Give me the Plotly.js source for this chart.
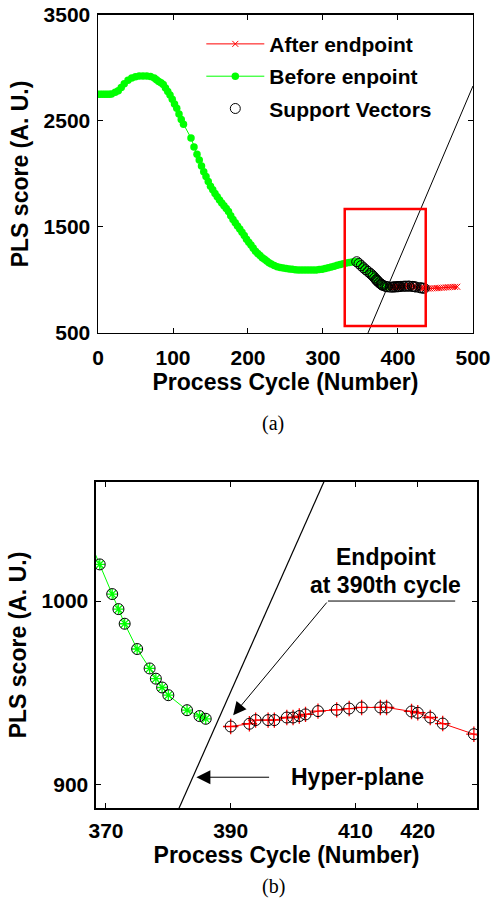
<!DOCTYPE html>
<html><head><meta charset="utf-8">
<script src="https://cdn.plot.ly/plotly-3.0.1.min.js"></script>
<style>html,body{margin:0;padding:0;background:#fff;} #chart{width:491px;height:913px;}</style>
</head><body><div id="chart"></div>
<script>
// ---- data ----
const beforeCycle = [0,3,6,9,12,15,18,23,27,31,35,40,45,50,55,60,65,70,75,
  78,81,84,87,90,93,96,99,102,105,108,111,114,124,128,132,135,138,141,144,147,150,153,156,159,162,165,168,171,174,177,180,
  183,186,189,192,195,198,201,204,207,210,213,216,219,222,225,228,
  231,235,239,243,247,251,255,259,263,267,271,275,279,283,287,291,295,299,303,307,311,315,319,323,327,331,335,339,343,345,
  348,351,354,357,360,363,365,367,
  369,371,372,373,375,377,378,379,380,383,385,386];
const beforeScore = [2752,2752,2752,2752,2752,2752,2754,2770,2786,2815,2850,2885,2905,2918,2925,2925,2924,2920,2905,
  2888,2872,2860,2845,2810,2778,2745,2705,2660,2620,2565,2515,2470,2340,2255,2185,2132,2075,2020,1975,1930,1885,1850,1815,1785,1755,1725,1700,1675,1645,1605,1570,
  1540,1510,1480,1450,1420,1385,1355,1330,1300,1272,1250,1232,1210,1195,1178,1162,
  1150,1137,1125,1118,1112,1108,1104,1100,1097,1095,1094,1094,1094,1094,1094,1095,1098,1102,1108,1115,1122,1130,1138,1146,1154,1160,1165,1169,1172,1172,
  1155,1135,1115,1097,1080,1062,1050,1036,
  1020,1003.8,995.6,987.6,973.8,963.2,957.6,952.8,948.6,940.4,937.2,935.7];
const afterCycle = [390,393,394,396,397,399,400,401,402,404,407,409,411,414,415,419,420,422,424,429,
  431,433,435,437,440,443,446,449,452,455,458,461,464,467,470,473,476,479];
const afterScore = [931.5,933,935,935,935,936.4,936.4,937.2,938.1,939.9,940.6,941.3,941.9,941.9,941.9,939.7,939,936.4,933.1,927.3,
  925,923,922,921,920,920,921,922,923,925,927,928,930,931,933,934,935,936];
const svCycle = [345,348,351,354,357,360,363,365,367,369,371,372,373,375,377,378,379,380,383,385,386,
  390,393,394,396,397,399,400,401,402,404,407,409,411,414,415,419,420,422,424,429,431,433,435];
const svScore = [1172,1155,1135,1115,1097,1080,1062,1050,1036,1020,1003.8,995.6,987.6,973.8,963.2,957.6,952.8,948.6,940.4,937.2,935.7,
  931.5,933,935,935,935,936.4,936.4,937.2,938.1,939.9,940.6,941.3,941.9,941.9,941.9,939.7,939,936.4,933.1,927.3,925,923,922];
const hyperTopCycle = [360,500];
const hyperTopScore = [500,2830];
const hyperZoomCycle = [381.6,405.2];
const hyperZoomScore = [886,1067];
const zoomWindowCycle = [329,437];
const zoomWindowScore = [566,1670];
const topXTicks = [0,100,200,300,400,500];
const topYTicks = [500,1500,2500,3500];
const zoomXTicks = [370,390,410,420];
const zoomYTicks = [900,1000];

// ---- styling ----
const FONT = 'Liberation Sans, Arial, Helvetica, sans-serif';
const SERIF = 'Liberation Serif, Times New Roman, serif';
const GREEN = '#00ff00', RED = '#ff0000';
const tickFont = {family: FONT, size: 21, color: '#000', weight: 'bold'};
const titleFont = {family: FONT, size: 23, color: '#000', weight: 'bold'};
const noteFont = {family: FONT, size: 23, color: '#000', weight: 'bold'};

const traces = [
  {x: beforeCycle, y: beforeScore, type: 'scatter', mode: 'lines+markers', name: 'Before enpoint',
   line: {color: GREEN, width: 1}, marker: {color: GREEN, size: 7.5, symbol: 'circle'},
   xaxis: 'x', yaxis: 'y', legendrank: 2, legendgroup: 'b'},
  {x: afterCycle, y: afterScore, type: 'scatter', mode: 'lines+markers', name: 'After endpoint',
   line: {color: RED, width: 1}, marker: {color: RED, size: 6, symbol: 'x-thin-open', line: {color: RED, width: 1}},
   xaxis: 'x', yaxis: 'y', legendrank: 1, legendgroup: 'a'},
  {x: svCycle, y: svScore, type: 'scatter', mode: 'markers', name: 'Support Vectors',
   marker: {color: '#000', size: 10, symbol: 'circle-open', line: {color: '#000', width: 1}},
   xaxis: 'x', yaxis: 'y', legendrank: 3, legendgroup: 'c'},
  {x: hyperTopCycle, y: hyperTopScore, type: 'scatter', mode: 'lines', showlegend: false,
   line: {color: '#000', width: 1}, xaxis: 'x', yaxis: 'y'},
  // zoomed panel
  {x: beforeCycle, y: beforeScore, type: 'scatter', mode: 'lines+markers', showlegend: false,
   line: {color: GREEN, width: 1}, marker: {color: GREEN, size: 9, symbol: 'asterisk-open', line: {color: GREEN, width: 1.3}},
   xaxis: 'x2', yaxis: 'y2'},
  {x: afterCycle, y: afterScore, type: 'scatter', mode: 'lines+markers', showlegend: false,
   line: {color: RED, width: 1}, marker: {color: RED, size: 11, symbol: 'cross-thin-open', line: {color: RED, width: 1.3}},
   xaxis: 'x2', yaxis: 'y2'},
  {x: svCycle, y: svScore, type: 'scatter', mode: 'markers', showlegend: false,
   marker: {color: '#000', size: 11, symbol: 'circle-open', line: {color: '#000', width: 1}},
   xaxis: 'x2', yaxis: 'y2'},
  {x: hyperZoomCycle, y: hyperZoomScore, type: 'scatter', mode: 'lines', showlegend: false,
   line: {color: '#000', width: 1.2}, xaxis: 'x2', yaxis: 'y2'}
];

function axis(extra) {
  return Object.assign({
    showline: true, linecolor: '#000', linewidth: 1.5, mirror: 'ticks',
    ticks: 'inside', ticklen: 5, tickwidth: 1, tickcolor: '#000',
    showgrid: false, zeroline: false, tickfont: tickFont, tickmode: 'array'
  }, extra);
}

const layout = {
  width: 491, height: 913,
  margin: {l: 0, r: 0, t: 0, b: 0},
  paper_bgcolor: '#fff', plot_bgcolor: '#fff',
  showlegend: true,
  legend: {x: 0.41, y: 0.974, xanchor: 'left', yanchor: 'top', bgcolor: 'rgba(0,0,0,0)',
    font: {family: FONT, size: 21, color: '#000', weight: 'bold'},
    itemwidth: 58, tracegroupgap: 2, traceorder: 'grouped'},
  xaxis: axis({domain: [0.1996, 0.9633], range: [0, 500], tickvals: topXTicks, anchor: 'y',
    ticklabelstandoff: 5,
    title: {text: 'Process Cycle (Number)', font: titleFont, standoff: 2}}),
  yaxis: axis({domain: [0.6353, 0.9836], range: [500, 3500], tickvals: topYTicks, anchor: 'x',
    ticklabelstandoff: 2,
    title: {text: 'PLS score (A. U.)', font: titleFont, standoff: 8}}),
  xaxis2: axis({domain: [0.1955, 0.9715], range: [368.4, 429.5], tickvals: zoomXTicks, anchor: 'y2',
    ticklabelstandoff: 3,
    title: {text: 'Process Cycle (Number)', font: titleFont, standoff: 2}}),
  yaxis2: axis({domain: [0.1150, 0.4721], range: [887, 1065], tickvals: zoomYTicks, anchor: 'x2',
    ticklabelstandoff: 2,
    title: {text: 'PLS score (A. U.)', font: titleFont, standoff: 8}}),
  shapes: [
    {type: 'rect', xref: 'x', yref: 'y', x0: zoomWindowCycle[0], x1: zoomWindowCycle[1],
     y0: zoomWindowScore[0], y1: zoomWindowScore[1], line: {color: RED, width: 2.5}},
    {type: 'line', xref: 'x2', yref: 'y2', x0: 405.6, x1: 426, y0: 1000, y1: 1000,
     line: {color: '#000', width: 1}}
  ],
  annotations: [
    {xref: 'x2', yref: 'y2', x: 414.9, y: 1024, text: 'Endpoint', showarrow: false, font: noteFont},
    {xref: 'x2', yref: 'y2', x: 414.9, y: 1008.7, text: 'at 390th cycle', showarrow: false, font: noteFont},
    {xref: 'x2', yref: 'y2', x: 390.4, y: 937.7, ax: 405.6, ay: 1000, axref: 'x2', ayref: 'y2',
     text: '', showarrow: true, arrowhead: 2, arrowsize: 2.6, arrowwidth: 1, arrowcolor: '#000'},
    {xref: 'x2', yref: 'y2', x: 410.3, y: 903.8, text: 'Hyper-plane', showarrow: false, font: noteFont},
    {xref: 'x2', yref: 'y2', x: 384.5, y: 903.8, ax: 396.4, ay: 903.8, axref: 'x2', ayref: 'y2',
     text: '', showarrow: true, arrowhead: 2, arrowsize: 2.8, arrowwidth: 1, arrowcolor: '#000'},
    {xref: 'paper', yref: 'paper', x: 273/491, y: 1 - 423/913, text: '(a)', showarrow: false,
     font: {family: SERIF, size: 20, color: '#000'}},
    {xref: 'paper', yref: 'paper', x: 273/491, y: 1 - 900/913, text: '(b)', showarrow: false,
     font: {family: SERIF, size: 20, color: '#000'}}
  ]
};

Plotly.newPlot('chart', traces, layout, {displayModeBar: false, staticPlot: true});
</script>
</body></html>
